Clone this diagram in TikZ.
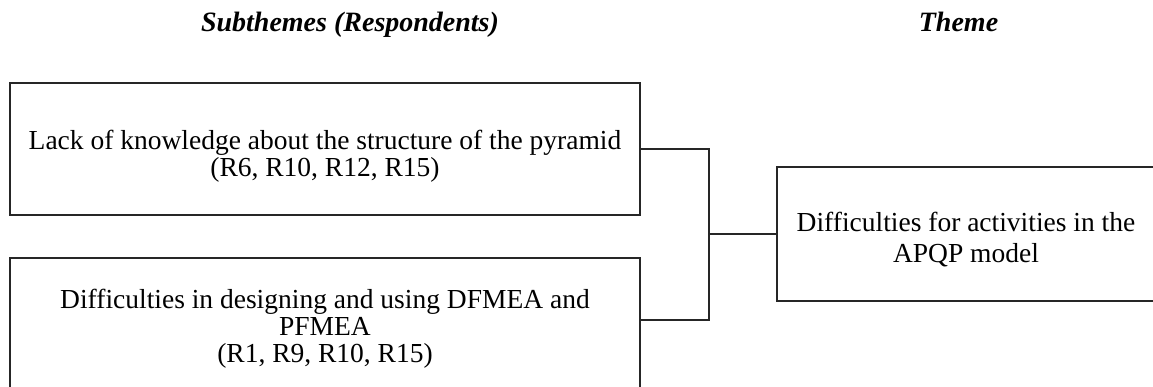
\documentclass[tikz,border=0pt]{standalone}
\usepackage{fontspec}
\setmainfont{Liberation Serif}
\usetikzlibrary{calc}
\tikzset{
  boxnode/.style={draw=black!85, line width=1.5pt, inner sep=0pt, outer sep=0pt},
  boxtext/.style={align=center, inner sep=0pt, font=\fontsize{27.5}{27}\selectfont},
  themetext/.style={align=center, inner sep=0pt, font=\fontsize{27.5}{31}\selectfont},
  heading/.style={anchor=base, inner sep=0pt, font=\fontsize{28}{30}\selectfont\bfseries\itshape},
  conn/.style={draw=black!85, line width=1.5pt}
}
\begin{document}
\begin{tikzpicture}[x=1pt,y=-1pt]
\clip (0,0) rectangle (1153,387);
\fill[white] (0,0) rectangle (1153,387);
% headings
\node[heading] (h1) at (350,32) {Subthemes (Respondents)};
\node[heading] (h2) at (958.5,32) {Theme};
% boxes
\node[boxnode, minimum width=630pt, minimum height=132pt] (b1) at (325,149) {};
\node[boxnode, minimum width=630pt, minimum height=142pt] (b2) at (325,329) {};
\node[boxnode, minimum width=378pt, minimum height=134pt] (th) at (966,234) {};
% texts
\node[boxtext] (t1) at (325,156) {Lack of knowledge about the structure of the pyramid\\(R6, R10, R12, R15)};
\node[boxtext] (t2) at (325,329) {Difficulties in designing and using DFMEA and\\PFMEA\\(R1, R9, R10, R15)};
\node[themetext] (t3) at (966,240) {Difficulties for activities in the\\APQP model};
% connectors
\coordinate (j) at (709,234);
\coordinate (b2c) at ($(b2.north east)+(0,62)$);
\draw[conn] (b1.east) -| (j) |- (b2c);
\draw[conn] (j) -- (th.west);
\end{tikzpicture}
\end{document}
